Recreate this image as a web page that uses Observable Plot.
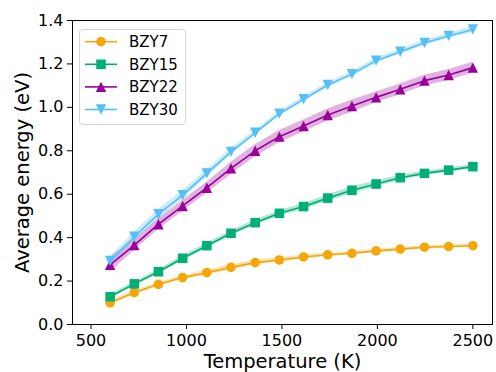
<!DOCTYPE html>
<html>
<head>
<meta charset="utf-8">
<script src="https://cdn.jsdelivr.net/npm/d3@7"></script>
<script src="https://cdn.jsdelivr.net/npm/@observablehq/plot@0.6"></script>
<style>
  html, body { margin: 0; padding: 0; background: #fff; }
  #chart svg { display: block; font-family: "DejaVu Sans", sans-serif; }
</style>
</head>
<body>
<div id="chart"></div>
<script>
// ---- data ----
const temperatures = [600, 726.7, 853.3, 980, 1106.7, 1233.3, 1360, 1486.7, 1613.3, 1740, 1866.7, 1993.3, 2120, 2246.7, 2373.3, 2500];
const seriesNames = ["BZY7", "BZY15", "BZY22", "BZY30"];
const bzy7  = [0.100, 0.147, 0.185, 0.216, 0.239, 0.263, 0.285, 0.297, 0.311, 0.321, 0.328, 0.339, 0.347, 0.356, 0.359, 0.363];
const bzy15 = [0.128, 0.187, 0.243, 0.305, 0.363, 0.420, 0.469, 0.512, 0.543, 0.582, 0.618, 0.647, 0.676, 0.696, 0.711, 0.727];
const bzy22 = [0.275, 0.366, 0.462, 0.546, 0.630, 0.719, 0.800, 0.865, 0.914, 0.965, 1.006, 1.046, 1.083, 1.123, 1.149, 1.183];
const bzy30 = [0.293, 0.404, 0.508, 0.596, 0.696, 0.795, 0.883, 0.971, 1.037, 1.103, 1.153, 1.215, 1.256, 1.297, 1.329, 1.359];
// half-width of the shaded uncertainty band
const spread7  = [0.010, 0.010, 0.010, 0.010, 0.012, 0.012, 0.012, 0.010, 0.010, 0.008, 0.008, 0.008, 0.008, 0.008, 0.008, 0.008];
const spread15 = [0.010, 0.010, 0.010, 0.012, 0.012, 0.012, 0.012, 0.012, 0.014, 0.016, 0.016, 0.014, 0.012, 0.010, 0.010, 0.010];
const spread22 = [0.035, 0.025, 0.025, 0.025, 0.025, 0.028, 0.028, 0.028, 0.028, 0.028, 0.028, 0.025, 0.025, 0.025, 0.025, 0.025];
const spread30 = [0.018, 0.022, 0.022, 0.020, 0.018, 0.015, 0.012, 0.012, 0.012, 0.012, 0.012, 0.012, 0.012, 0.012, 0.012, 0.015];
const xTicks = [500, 1000, 1500, 2000, 2500];
const yTicks = [0, 0.2, 0.4, 0.6, 0.8, 1.0, 1.2, 1.4];
const xLabel = "Temperature (K)";
const yLabel = "Average energy (eV)";

// ---- styling ----
const colors = ["#f5a70a", "#00ae76", "#990099", "#55c0f5"];
function tri(dir) {
  return {
    draw(ctx, size) {
      const r = Math.sqrt(size / Math.PI);
      ctx.moveTo(0, -dir * r);
      ctx.lineTo(r, dir * r);
      ctx.lineTo(-r, dir * r);
      ctx.closePath();
    }
  };
}
const squareSym = {
  draw(ctx, size) {
    const r = Math.sqrt(size / Math.PI) * 0.92;
    ctx.moveTo(-r, -r); ctx.lineTo(r, -r); ctx.lineTo(r, r); ctx.lineTo(-r, r); ctx.closePath();
  }
};
const symbols = ["circle", squareSym, tri(1), tri(-1)];
const radii = [4.8, 5.2, 5.2, 5.2];

const values = [bzy7, bzy15, bzy22, bzy30];
const spreads = [spread7, spread15, spread22, spread30];
const rows = [];
seriesNames.forEach((name, i) => {
  temperatures.forEach((t, j) => {
    rows.push({series: name, idx: i, T: t, E: values[i][j], lo: values[i][j] - spreads[i][j], hi: values[i][j] + spreads[i][j]});
  });
});

const marks = [];
seriesNames.forEach((name, i) => {
  const d = rows.filter(r => r.series === name);
  marks.push(Plot.areaY(d, {x: "T", y1: "lo", y2: "hi", fill: colors[i], fillOpacity: 0.3}));
});
seriesNames.forEach((name, i) => {
  const d = rows.filter(r => r.series === name);
  marks.push(Plot.line(d, {x: "T", y: "E", stroke: colors[i], strokeWidth: 1.6}));
  marks.push(Plot.dot(d, {x: "T", y: "E", fill: colors[i], symbol: symbols[i], r: radii[i], stroke: "none"}));
});

const chart = Plot.plot({
  width: 496,
  height: 372,
  marginLeft: 72,
  marginRight: 4,
  marginTop: 20,
  marginBottom: 48,
  style: {fontFamily: "DejaVu Sans, sans-serif", fontSize: "16px", color: "#000", background: "#fff"},
  x: {domain: [403, 2603], ticks: xTicks, tickFormat: d3.format("d"), label: null},
  y: {domain: [0, 1.4], ticks: yTicks, tickFormat: d3.format(".1f"), label: null},
  marks: [
    ...marks,
    Plot.axisX({ticks: xTicks, tickFormat: d3.format("d"), tickSize: 5, tickPadding: 5, fontSize: 16, label: null, stroke: "#000"}),
    Plot.axisY({ticks: yTicks, tickFormat: d3.format(".1f"), tickSize: 5, tickPadding: 4, fontSize: 16, label: null, stroke: "#000"}),
    Plot.frame({stroke: "#000", strokeWidth: 1}),
    Plot.text([xLabel], {frameAnchor: "bottom", dy: 37.5, lineAnchor: "middle", textAnchor: "middle", fontSize: 19.5, text: d => d, fill: "#000"}),
    Plot.text([yLabel], {frameAnchor: "left", dx: -50, rotate: -90, lineAnchor: "middle", textAnchor: "middle", fontSize: 19.5, text: d => d, fill: "#000"})
  ]
});
document.getElementById("chart").appendChild(chart);

// ---- legend (matplotlib-style box in the upper-left corner) ----
const svg = d3.select(chart);
const lg = svg.append("g").attr("transform", "translate(79,29)");
lg.append("rect").attr("x", 0.5).attr("y", 0.5).attr("width", 106).attr("height", 95)
  .attr("rx", 3).attr("fill", "#fff").attr("fill-opacity", 0.8).attr("stroke", "#d5d5d5");
seriesNames.forEach((name, i) => {
  const y = 12.7 + i * 22.6;
  const g = lg.append("g").attr("transform", `translate(0,${y})`);
  g.append("line").attr("x1", 6).attr("x2", 38).attr("y1", 0).attr("y2", 0)
    .attr("stroke", colors[i]).attr("stroke-width", 1.6);
  const sym = typeof symbols[i] === "string" ? d3.symbolCircle : symbols[i];
  const sz = Math.PI * radii[i] * radii[i];
  g.append("path").attr("transform", "translate(22,0)").attr("d", d3.symbol(sym, sz)()).attr("fill", colors[i]);
  g.append("text").attr("x", 50).attr("y", 0).attr("dy", "0.35em").attr("text-anchor", "start")
    .attr("font-size", 15).attr("font-family", "DejaVu Sans, sans-serif").attr("fill", "#000").text(name);
});
</script>
</body>
</html>
